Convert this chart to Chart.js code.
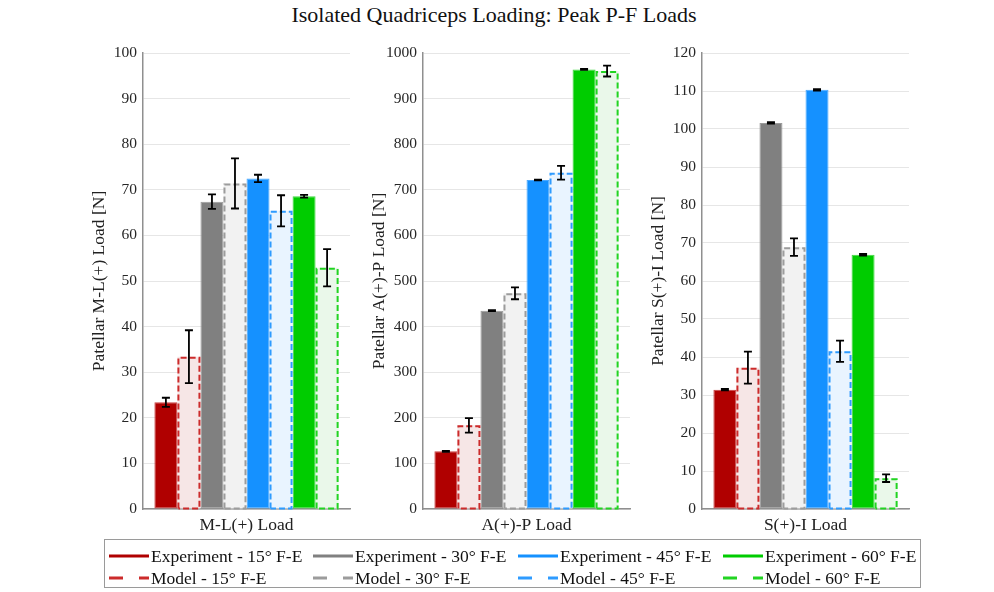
<!DOCTYPE html>
<html>
<head>
<meta charset="utf-8">
<title>Isolated Quadriceps Loading: Peak P-F Loads</title>
<script src="https://cdn.jsdelivr.net/npm/chart.js@4.4.1/dist/chart.umd.min.js"></script>
<style>
  html, body { margin: 0; padding: 0; background: #ffffff; }
  #stage { position: relative; width: 994px; height: 592px; overflow: hidden; background: #ffffff;
           font-family: 'Liberation Serif', 'Times New Roman', serif; }
  #title { position: absolute; left: 0; width: 988px; top: 2px; text-align: center; font-size: 22px; color: #111; }
  .panel { position: absolute; top: 30px; }
  #legend { position: absolute; left: 104px; top: 539px; width: 817px; height: 49px;
            border: 1.5px solid #9a9a9a; background: #fff; box-sizing: border-box; }
  .item { position: absolute; height: 22px; display: flex; align-items: center; font-size: 17.5px; color: #111; white-space: nowrap; }
  .item svg { margin-right: 2px; }
</style>
</head>
<body>
<div id="stage">
  <div id="title">Isolated Quadriceps Loading: Peak P-F Loads</div>
  <div class="panel" id="p0"><canvas id="c0" width="275" height="515"></canvas></div>
  <div class="panel" id="p1"><canvas id="c1" width="275" height="515"></canvas></div>
  <div class="panel" id="p2"><canvas id="c2" width="275" height="515"></canvas></div>
  <div id="legend"></div>
</div>
<script>
// Load directions, one panel each
const panelLabels = ['M-L(+) Load', 'A(+)-P Load', 'S(+)-I Load'];
const yTitles = ['Patellar M-L(+) Load [N]', 'Patellar A(+)-P Load [N]', 'Patellar S(+)-I Load [N]'];
const yMax = [100, 1000, 120];
const yStep = [10, 100, 10];

// Series (bar order within each panel)
const seriesNames = [
  'Experiment - 15\u00B0 F-E', 'Model - 15\u00B0 F-E',
  'Experiment - 30\u00B0 F-E', 'Model - 30\u00B0 F-E',
  'Experiment - 45\u00B0 F-E', 'Model - 45\u00B0 F-E',
  'Experiment - 60\u00B0 F-E', 'Model - 60\u00B0 F-E'
];

// Peak loads [N] per panel: M-L, A-P, S-I
const exp15 = [23.4, 126.5, 31.4];
const mod15 = [33.4, 183.5, 37.2];
const exp30 = [67.4, 435.0, 101.6];
const mod30 = [71.4, 473.0, 68.9];
const exp45 = [72.5, 721.5, 110.3];
const mod45 = [65.4, 737.5, 41.5];
const exp60 = [68.6, 964.0, 66.9];
const mod60 = [52.9, 960.5, 8.1];

// Error bar half-widths [N]
const exp15Err = [1.0, 1.0, 0.2];
const mod15Err = [5.8, 16.0, 4.2];
const exp30Err = [1.6, 1.0, 0.2];
const mod30Err = [5.5, 13.0, 2.3];
const exp45Err = [0.8, 1.0, 0.2];
const mod45Err = [3.4, 15.0, 2.8];
const exp60Err = [0.3, 1.0, 0.2];
const mod60Err = [4.1, 12.0, 1.0];

const seriesValues = [exp15, mod15, exp30, mod30, exp45, mod45, exp60, mod60];
const seriesErrors = [exp15Err, mod15Err, exp30Err, mod30Err, exp45Err, mod45Err, exp60Err, mod60Err];
const isModel = [false, true, false, true, false, true, false, true];

// Styling per flexion angle
const solidColors = ['#b00000', '#b00000', '#808080', '#808080', '#1591ff', '#1591ff', '#00cc00', '#00cc00'];
const edgeColors  = ['#c84040', '#cc2b2b', '#9a9a9a', '#9c9c9c', '#4aa8ff', '#2e9bff', '#40d840', '#22d422'];
const tintColors  = ['#b00000', '#f6e6e6', '#808080', '#f2f2f2', '#1591ff', '#e9f4ff', '#00cc00', '#eaf8ea'];

const FONT = "'Liberation Serif', 'Times New Roman', serif";
const axisLeft = [143, 423, 702];
const yAxisWidth = 63;

// Dashed outlines for model bars (bar geometry comes from the bar elements)
const dashedOutline = {
  id: 'dashedOutline',
  afterDatasetDraw(chart, args) {
    const i = args.index;
    if (!isModel[i]) return;
    const ctx = chart.ctx;
    const meta = args.meta;
    ctx.save();
    ctx.strokeStyle = edgeColors[i];
    ctx.lineWidth = 2;
    ctx.setLineDash([6, 3]);
    meta.data.forEach(el => {
      const p = el.getProps(['x', 'y', 'base', 'width'], true);
      const l = p.x - p.width / 2 + 1, r = p.x + p.width / 2 - 1;
      ctx.beginPath();
      ctx.moveTo(l, p.base);
      ctx.lineTo(l, p.y + 1);
      ctx.lineTo(r, p.y + 1);
      ctx.lineTo(r, p.base);
      ctx.lineTo(l, p.base);
      ctx.stroke();
    });
    ctx.restore();
  }
};

// Error bars drawn through the value scale
const errorBars = {
  id: 'errorBars',
  afterDatasetsDraw(chart) {
    const ctx = chart.ctx;
    const ys = chart.scales.y;
    const panel = chart.options.plugins.errorBars.panel;
    ctx.save();
    ctx.strokeStyle = '#000000';
    ctx.lineWidth = 1.8;
    chart.data.datasets.forEach((ds, i) => {
      const meta = chart.getDatasetMeta(i);
      meta.data.forEach(el => {
        const v = seriesValues[i][panel];
        const e = seriesErrors[i][panel];
        const x = el.x;
        const yt = ys.getPixelForValue(v + e);
        const yb = ys.getPixelForValue(v - e);
        ctx.beginPath();
        ctx.moveTo(x, yt); ctx.lineTo(x, yb);
        ctx.moveTo(x - 4, yt); ctx.lineTo(x + 4, yt);
        ctx.moveTo(x - 4, yb); ctx.lineTo(x + 4, yb);
        ctx.stroke();
      });
    });
    ctx.restore();
  }
};

function makePanel(p) {
  const wrap = document.getElementById('p' + p);
  wrap.style.left = (axisLeft[p] - yAxisWidth) + 'px';
  const datasets = seriesNames.map((name, i) => ({
    label: name,
    data: [seriesValues[i][p]],
    backgroundColor: tintColors[i],
    borderColor: isModel[i] ? 'rgba(0,0,0,0)' : edgeColors[i],
    borderWidth: isModel[i] ? 0 : 1,
    borderSkipped: false,
    categoryPercentage: 0.89,
    barPercentage: 1.0
  }));
  new Chart(document.getElementById('c' + p), {
    type: 'bar',
    data: { labels: [panelLabels[p]], datasets },
    options: {
      responsive: false,
      animation: false,
      devicePixelRatio: 1,
      layout: { padding: { top: 23, right: 5, left: 0, bottom: 0 } },
      plugins: {
        legend: { display: false },
        tooltip: { enabled: false },
        title: { display: false },
        errorBars: { panel: p }
      },
      scales: {
        x: {
          grid: { display: false, drawTicks: false },
          border: { display: true, color: '#8f8f8f', width: 1.5 },
          ticks: { font: { family: FONT, size: 17.5 }, color: '#222222', padding: 6 },
          afterFit(scale) { scale.height = 36; }
        },
        y: {
          min: 0,
          max: yMax[p],
          ticks: {
            stepSize: yStep[p],
            font: { family: FONT, size: 15.5 },
            color: '#262626',
            padding: 6,
            callback: (v) => String(v)
          },
          grid: { color: '#e6e6e6', lineWidth: 1, drawTicks: false },
          border: { display: true, color: '#8f8f8f', width: 1.5 },
          title: {
            display: true,
            text: yTitles[p],
            font: { family: FONT, size: 17.5 },
            color: '#222222',
            padding: { top: 9, bottom: 0 }
          },
          afterFit(scale) { scale.width = yAxisWidth; }
        }
      }
    },
    plugins: [dashedOutline, errorBars]
  });
}

[0, 1, 2].forEach(makePanel);

// Legend: two rows (experiment / model), four angle columns
const legendCols = [4, 208, 413, 618];
const legendRows = [5, 27];
const legend = document.getElementById('legend');
seriesNames.forEach((name, i) => {
  const col = Math.floor(i / 2);
  const row = i % 2;
  const item = document.createElement('div');
  item.className = 'item';
  item.style.left = legendCols[col] + 'px';
  item.style.top = legendRows[row] + 'px';
  const dash = isModel[i] ? ' stroke-dasharray="14 16"' : '';
  const color = isModel[i] ? edgeColors[i] : solidColors[i];
  item.innerHTML = '<svg width="40" height="6"><line x1="0" y1="3" x2="40" y2="3" stroke="' + color +
    '" stroke-width="3"' + dash + '/></svg><span>' + name + '</span>';
  legend.appendChild(item);
});
</script>
</body>
</html>
